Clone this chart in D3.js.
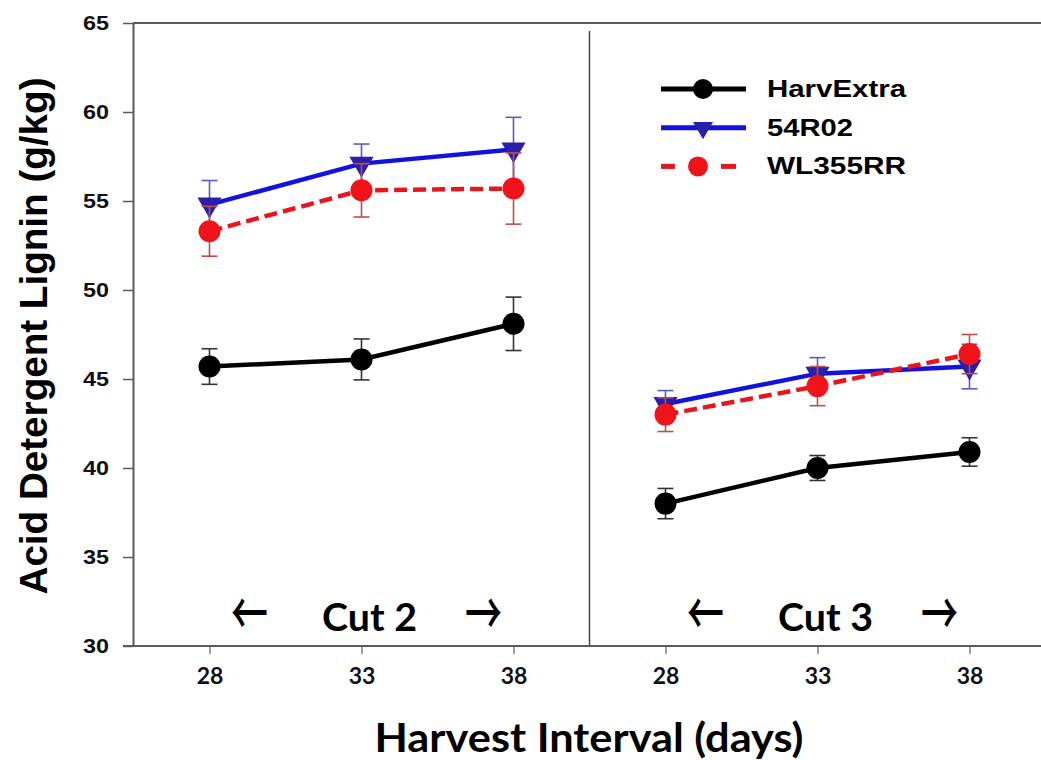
<!DOCTYPE html>
<html lang="en">
<head>
    <meta charset="utf-8">
    <title>Acid Detergent Lignin</title>
    <style>
        body { margin: 0; background: #fff; }
        .tick text { font-weight: bold; fill: #111; }
        .err { fill: none; }
    </style>
</head>
<body>
<script src="https://cdn.jsdelivr.net/npm/d3@7"></script>
<script>

    // ************** Data *************************************
    var cuts = ["Cut 2", "Cut 3"];
    var days = [28, 33, 38];
    var yTicks = [30, 35, 40, 45, 50, 55, 60, 65];

    var harvExtra    = [45.7, 46.1, 48.1, 38.0, 40.0, 40.9];
    var harvExtraErr = [1.0, 1.15, 1.5, 0.85, 0.7, 0.8];
    var r54R02       = [54.8, 57.1, 57.9, 43.6, 45.3, 45.7];
    var r54R02Err    = [1.35, 1.1, 1.8, 0.75, 0.9, 1.25];
    var wl355rr      = [53.3, 55.6, 55.7, 43.0, 44.6, 46.4];
    var wl355rrErr   = [1.4, 1.5, 2.0, 0.95, 1.1, 1.1];

    var seriesNames = ["HarvExtra", "54R02", "WL355RR"];

    // one key per cut/day pair
    var keys = [];
    cuts.forEach(function(c) { days.forEach(function(d) { keys.push(c + "|" + d); }); });

    function build(vals, errs) {
        return vals.map(function(v, i) { return {key: keys[i], v: v, e: errs[i]}; });
    }

    var series = [
        {name: seriesNames[0], data: build(harvExtra, harvExtraErr), line: "#000", fill: "#000",
            err: "#333", dash: null, shape: "circle", r: 11, lw: 4.5},
        {name: seriesNames[1], data: build(r54R02, r54R02Err), line: "#1212dc", fill: "#2a1fa8",
            err: "#5a5ab8", dash: null, shape: "triangle", r: 12, lw: 4.5},
        {name: seriesNames[2], data: build(wl355rr, wl355rrErr), line: "#e8161c", fill: "#f0141a",
            err: "#b85050", dash: "13,6", shape: "circle", r: 11, lw: 4.5}
    ];

    var width = 1041, height = 760;
    var plotLeft = 133, plotTop = 23, plotBottom = 646, plotRight = 1041;

    var svg = d3.select("body").append("svg")
            .attr("width", width)
            .attr("height", height);

    var x = d3.scalePoint()
            .domain(keys)
            .range([209.5, 969.5]);

    var y = d3.scaleLinear()
            .domain([30, 65])
            .range([plotBottom, plotTop]);

    var axisColor = "#5a5a5a";

    // frame top + divider
    svg.append("line")
            .attr("x1", plotLeft).attr("x2", plotRight)
            .attr("y1", y(65)).attr("y2", y(65))
            .attr("stroke", axisColor).attr("stroke-width", 2);

    var mid = (x(keys[2]) + x(keys[3])) / 2;
    svg.append("line")
            .attr("x1", mid).attr("x2", mid)
            .attr("y1", plotTop + 8).attr("y2", plotBottom)
            .attr("stroke", "#444").attr("stroke-width", 1.5);

    // y axis
    var yAxis = svg.append("g")
            .attr("transform", "translate(" + plotLeft + ",0)")
            .call(d3.axisLeft(y).tickValues(yTicks).tickSize(10).tickSizeOuter(0).tickPadding(14));
    yAxis.select(".domain").attr("stroke", axisColor).attr("stroke-width", 2);
    yAxis.selectAll(".tick line").attr("stroke", axisColor).attr("stroke-width", 1.5);
    yAxis.selectAll(".tick text")
            .attr("textLength", 26).attr("lengthAdjust", "spacingAndGlyphs")
            .style("font-family", "'Liberation Sans', Arial, sans-serif")
            .style("font-size", "20px");

    // x axis
    var xAxis = svg.append("g")
            .attr("transform", "translate(0," + plotBottom + ")")
            .call(d3.axisBottom(x).tickSize(8).tickSizeOuter(0).tickPadding(14)
                .tickFormat(function(k) { return k.split("|")[1]; }));
    xAxis.select(".domain").remove();
    xAxis.append("line")
            .attr("x1", plotLeft - 10).attr("x2", plotRight)
            .attr("stroke", axisColor).attr("stroke-width", 2);
    xAxis.selectAll(".tick line").attr("stroke", axisColor).attr("stroke-width", 1.2);
    xAxis.selectAll(".tick text")
            .style("font-family", "Lato, 'Open Sans', sans-serif")
            .style("font-size", "23px");

    // cut labels with arrows
    cuts.forEach(function(c, ci) {
        var cx = (x(keys[ci * 3]) + x(keys[ci * 3 + 2])) / 2 + 8;
        svg.append("text")
                .attr("x", cx).attr("y", 631)
                .attr("text-anchor", "middle")
                .attr("textLength", 95).attr("lengthAdjust", "spacingAndGlyphs")
                .style("font-family", "Lato, 'Open Sans', sans-serif")
                .style("font-weight", "bold")
                .style("font-size", "38px")
                .text(c);
        [["\u2190", -120], ["\u2192", 114]].forEach(function(a) {
            svg.append("text")
                    .attr("x", cx + a[1]).attr("y", 615)
                    .attr("dy", "0.35em")
                    .attr("text-anchor", "middle")
                    .attr("textLength", 37).attr("lengthAdjust", "spacingAndGlyphs")
                    .style("font-family", "'Noto Sans CJK SC', 'DejaVu Sans', sans-serif")
                    .style("font-weight", "500")
                    .style("font-size", "60px")
                    .text(a[0]);
        });
    });

    // axis titles
    svg.append("text")
            .attr("transform", "translate(47," + 336 + ") rotate(-90)")
            .attr("text-anchor", "middle")
            .attr("textLength", 517).attr("lengthAdjust", "spacingAndGlyphs")
            .style("font-family", "'Liberation Sans', Arial, sans-serif")
            .style("font-weight", "bold")
            .style("font-size", "38px")
            .text("Acid Detergent Lignin (g/kg)");

    svg.append("text")
            .attr("x", 589).attr("y", 752)
            .attr("text-anchor", "middle")
            .attr("textLength", 429).attr("lengthAdjust", "spacingAndGlyphs")
            .style("font-family", "Lato, 'Open Sans', sans-serif")
            .style("font-weight", "bold")
            .style("font-size", "40px")
            .text("Harvest Interval (days)");

    // ************** Series *****************
    var line = d3.line()
            .x(function(d) { return x(d.key); })
            .y(function(d) { return y(d.v); });

    function marker(sel, s, size) {
        if (s.shape === "circle") {
            sel.append("circle").attr("r", size).attr("fill", s.fill);
        } else {
            sel.append("path")
                    .attr("d", d3.symbol().type(d3.symbolTriangle).size(size * size * 1.75)())
                    .attr("transform", "rotate(180)")
                    .attr("fill", s.fill);
        }
    }

    series.forEach(function(s) {
        var g = svg.append("g").attr("class", "series");

        // error bars
        var eb = g.selectAll("g.err").data(s.data).enter().append("g")
                .attr("class", "err")
                .attr("stroke", s.err).attr("stroke-width", 1.6);
        eb.append("line")
                .attr("x1", function(d) { return x(d.key); })
                .attr("x2", function(d) { return x(d.key); })
                .attr("y1", function(d) { return y(d.v - d.e); })
                .attr("y2", function(d) { return y(d.v + d.e); });
        [-1, 1].forEach(function(sgn) {
            eb.append("line")
                    .attr("x1", function(d) { return x(d.key) - 8; })
                    .attr("x2", function(d) { return x(d.key) + 8; })
                    .attr("y1", function(d) { return y(d.v + sgn * d.e); })
                    .attr("y2", function(d) { return y(d.v + sgn * d.e); });
        });

        // one path per cut
        cuts.forEach(function(c) {
            g.append("path")
                    .datum(s.data.filter(function(d) { return d.key.split("|")[0] === c; }))
                    .attr("fill", "none")
                    .attr("stroke", s.line)
                    .attr("stroke-width", s.lw)
                    .attr("stroke-dasharray", s.dash)
                    .attr("d", line);
        });

        g.selectAll("g.pt").data(s.data).enter().append("g")
                .attr("class", "pt")
                .attr("transform", function(d) { return "translate(" + x(d.key) + "," + y(d.v) + ")"; })
                .each(function() { marker(d3.select(this), s, s.r); });
    });

    // ************** Legend *****************
    var legend = svg.append("g").attr("transform", "translate(661,89)");
    var legendWidths = [139, 86, 139];
    series.forEach(function(s, i) {
        var row = legend.append("g").attr("transform", "translate(0," + (i * 38.7) + ")");
        if (s.dash) {
            row.append("line").attr("x1", 0).attr("x2", 14).attr("stroke", s.line).attr("stroke-width", 5);
            row.append("line").attr("x1", 60).attr("x2", 75).attr("stroke", s.line).attr("stroke-width", 5);
        } else {
            row.append("line").attr("x1", 0).attr("x2", 85).attr("stroke", s.line).attr("stroke-width", s.lw + 0.5);
        }
        var m = row.append("g").attr("transform", "translate(" + (s.dash ? 37 : 42) + ",0)");
        marker(m, s, 10);
        row.append("text")
                .attr("x", 106).attr("y", 8)
                .attr("textLength", legendWidths[i]).attr("lengthAdjust", "spacingAndGlyphs")
                .style("font-family", "'Liberation Sans', Arial, sans-serif")
                .style("font-weight", "bold")
                .style("font-size", "23px")
                .text(s.name);
    });

</script>
</body>
</html>
